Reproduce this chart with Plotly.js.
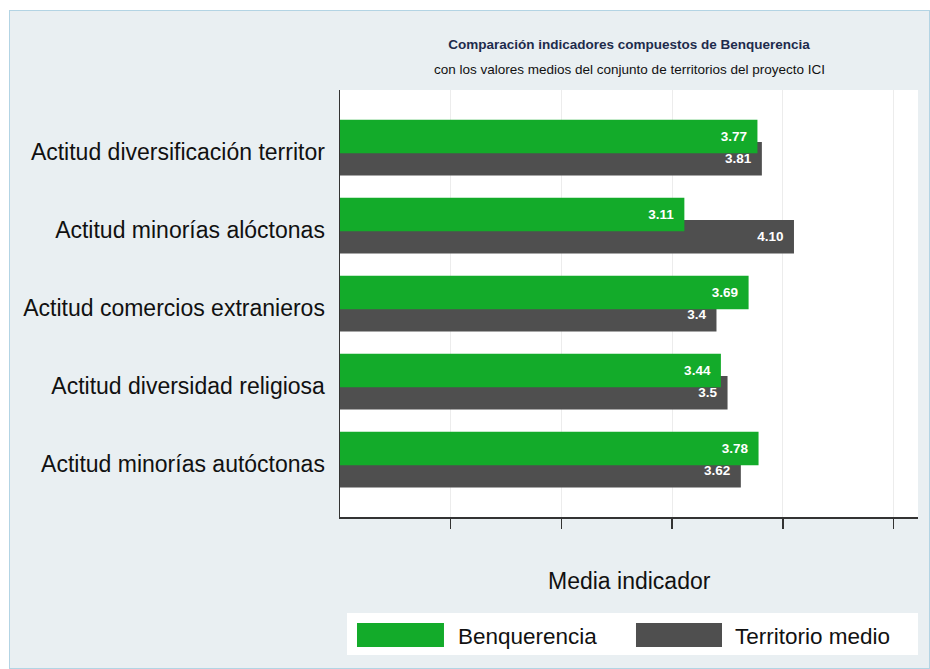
<!DOCTYPE html>
<html>
<head>
<meta charset="utf-8">
<script src="https://cdn.plot.ly/plotly-3.0.1.min.js"></script>
<style>
  html, body { margin: 0; padding: 0; background: #ffffff; }
  #frame { position: absolute; left: 9px; top: 10px; width: 921px; height: 659px;
           box-sizing: border-box; border: 1px solid #b3d4e4; background: #e9eff2; }
  #chart { width: 919px; height: 657px; }
</style>
</head>
<body>
<div id="frame"><div id="chart"></div></div>
<script>
// ---- data ----
const categories = [
  "Actitud diversificación territor",
  "Actitud minorías alóctonas",
  "Actitud comercios extranieros",
  "Actitud diversidad religiosa",
  "Actitud minorías autóctonas"
];
const seriesNames = ["Benquerencia", "Territorio medio"];
const benquerencia = [3.77, 3.11, 3.69, 3.44, 3.78];
const territorioMedio = [3.81, 4.10, 3.40, 3.50, 3.62];
const benquerenciaLabels = ["3.77", "3.11", "3.69", "3.44", "3.78"];
const territorioLabels = ["3.81", "4.10", "3.4", "3.5", "3.62"];
const xTicks = [1, 2, 3, 4, 5];

const GREEN = "#13ab2a";
const GRAY = "#4f4f4f";
const FONT = "Liberation Sans, Arial, Helvetica, sans-serif";
const pad = s => s + "\u00a0\u00a0";

const traceGray = {
  type: "bar", orientation: "h", name: seriesNames[1],
  y: categories, x: territorioMedio,
  width: 0.43, offset: -0.07,
  marker: { color: GRAY },
  text: territorioLabels.map(pad), textposition: "inside", insidetextanchor: "end",
  textfont: { color: "#ffffff", size: 13.5, family: FONT, weight: "bold" },
  hoverinfo: "x+y", showlegend: false
};
const traceGreen = {
  type: "bar", orientation: "h", name: seriesNames[0],
  y: categories, x: benquerencia,
  width: 0.43, offset: -0.355,
  marker: { color: GREEN },
  text: benquerenciaLabels.map(pad), textposition: "inside", insidetextanchor: "end",
  textfont: { color: "#ffffff", size: 13.5, family: FONT, weight: "bold" },
  hoverinfo: "x+y", showlegend: false
};

// legend geometry (paper coordinates)
const legendItems = [
  { name: seriesNames[0], color: GREEN, x0: 0.0294, x1: 0.1799, tx: 0.2007 },
  { name: seriesNames[1], color: GRAY, x0: 0.5121, x1: 0.6609, tx: 0.6799 }
];
const shapes = [
  { type: "rect", xref: "paper", yref: "paper", x0: 0.0121, x1: 1.0, y0: -0.2248, y1: -0.3232,
    fillcolor: "#ffffff", line: { width: 0 }, layer: "above" }
];
const annotations = [
  { xref: "paper", yref: "paper", x: 0.5, y: 1.049, xanchor: "center", yanchor: "middle",
    text: "con los valores medios del conjunto de territorios del proyecto ICI",
    showarrow: false, font: { family: FONT, size: 13.5, color: "#111111" } },
  { xref: "paper", yref: "paper", x: 0.5, y: -0.1499, xanchor: "center", yanchor: "middle",
    text: "Media indicador", showarrow: false, font: { family: FONT, size: 23, color: "#111111" } }
];
legendItems.forEach(it => {
  shapes.push({ type: "rect", xref: "paper", yref: "paper", x0: it.x0, x1: it.x1,
    y0: -0.2482, y1: -0.3044, fillcolor: it.color, line: { width: 0 }, layer: "above" });
  annotations.push({ xref: "paper", yref: "paper", x: it.tx, y: -0.2787, xanchor: "left",
    yanchor: "middle", text: it.name, showarrow: false,
    font: { family: FONT, size: 22.5, color: "#111111" } });
});

const layout = {
  width: 919, height: 657,
  margin: { l: 330, r: 11, t: 79, b: 151, pad: 0 },
  paper_bgcolor: "#e9eff2",
  plot_bgcolor: "#ffffff",
  barmode: "overlay",
  showlegend: false,
  title: {
    text: "<b>Comparación indicadores compuestos de Benquerencia</b>",
    x: 0.5, xref: "paper", xanchor: "center",
    y: 1 - 33 / 657, yref: "container", yanchor: "middle",
    font: { family: FONT, size: 13.5, color: "#1d2b4c" }
  },
  xaxis: {
    range: [0, 5.22],
    tickvals: xTicks, showticklabels: false,
    ticks: "outside", ticklen: 10, tickwidth: 1.5, tickcolor: "#333333",
    showgrid: true, gridcolor: "#ececec", gridwidth: 1,
    zeroline: false,
    showline: true, linecolor: "#333333", linewidth: 1.5,
    fixedrange: true
  },
  yaxis: {
    type: "category",
    categoryorder: "array", categoryarray: categories,
    range: [4.737, -0.737],
    ticks: "", showgrid: false, zeroline: false,
    showline: true, linecolor: "#333333", linewidth: 1.5,
    tickfont: { family: FONT, size: 23, color: "#111111" },
    ticklabelstandoff: 9,
    ticklabelshift: -4,
    fixedrange: true
  },
  shapes: shapes,
  annotations: annotations
};

Plotly.newPlot("chart", [traceGray, traceGreen], layout, { displayModeBar: false, staticPlot: true });
</script>
</body>
</html>
